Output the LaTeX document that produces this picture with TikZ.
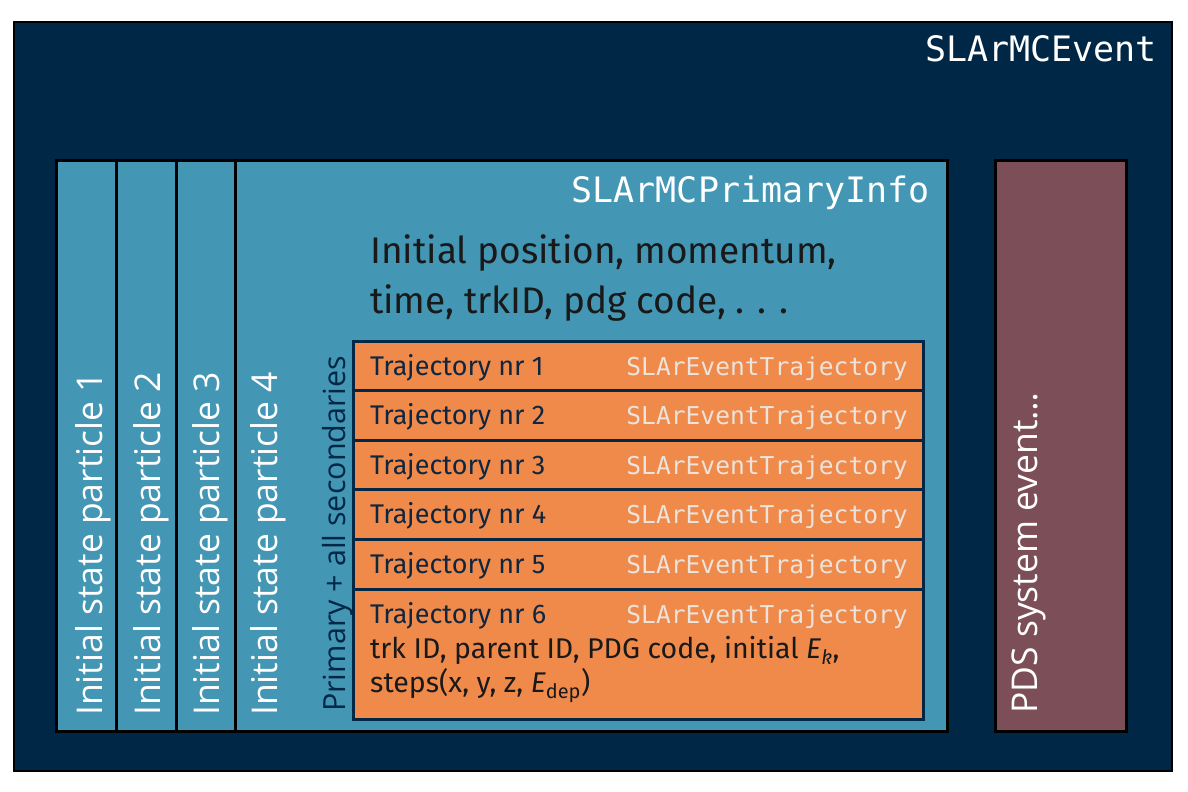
\documentclass[tikz,border=0pt]{standalone}
\usepackage{fontspec}
\setmainfont{Fira Sans}
\setmonofont{DejaVu Sans Mono}
\newfontfamily\rotfont{Open Sans}
\definecolor{navy}{HTML}{002846}
\definecolor{pblue}{HTML}{4396B4}
\definecolor{orng}{HTML}{EF8A4B}
\definecolor{maroon}{HTML}{7C4F58}
\definecolor{monolight}{HTML}{EBE3DC}
\definecolor{trajtext}{HTML}{10263F}
\begin{document}
\begin{tikzpicture}[x=1pt,y=-1pt,
  stripe/.style={draw=black, line width=3pt, fill=pblue},
  trajbox/.style={draw=navy, line width=3pt, fill=orng},
  bigmono/.style={font=\ttfamily\fontsize{35}{40}\selectfont, text=white, inner sep=0pt},
  trajmono/.style={font=\ttfamily\fontsize{24.6}{30}\selectfont, text=monolight, inner sep=0pt},
  trajlbl/.style={font=\fontsize{27}{32}\selectfont, text=trajtext, inner sep=0pt},
  rotlbl/.style={font=\rotfont\fontsize{35.5}{40}\selectfont, text=white, inner sep=0pt, rotate=90, anchor=base west},
  infolbl/.style={font=\fontsize{37}{42}\selectfont, text=black!90, inner sep=0pt, anchor=base west},
  detlbl/.style={font=\fontsize{28.5}{32}\selectfont, text=black!90, inner sep=0pt, anchor=base west}
]
\useasboundingbox (0,0) rectangle (1188,792);
\fill[white] (0,0) rectangle (1188,792);
% outer event
\draw[line width=2pt, draw=black, fill=navy] (14,22) rectangle (1172,771);
\node[bigmono, anchor=base east] (evt) at (1157,62) {SLArMCEvent};
% primary info stripes
\foreach \x in {56,116,176,235} \draw[stripe] (\x,160) rectangle (947,731);
\node[rotlbl] (p1) at (102,716) {Initial state particle 1};
\node[rotlbl] (p2) at (160,716) {Initial state particle 2};
\node[rotlbl] (p3) at (219,716) {Initial state particle 3};
\node[rotlbl] (p4) at (277,716) {Initial state particle 4};
\node[bigmono, anchor=base east] (pinfo) at (930,202) {SLArMCPrimaryInfo};
\node[infolbl] (info1) at (370,263) {Initial position, momentum,};
\node[infolbl] (info2) at (370,313) {time, trkID, pdg code, . . .};
\node[font=\rotfont\fontsize{30.5}{34}\selectfont, text=navy, inner sep=0pt, rotate=90, anchor=base west] (sec) at (345,712) {Primary + all secondaries};
% PDS
\draw[line width=3pt, draw=black, fill=maroon] (995,160) rectangle (1126,731);
\node[rotlbl] (pds) at (1037,714) {PDS system event…};
% trajectories
\draw[draw=navy, line width=3pt] (353,341) rectangle (923,719);
\foreach \i/\t in {1/341,2/390.6,3/440.2,4/489.8,5/539.4,6/589}{
  \draw[trajbox] (353,\t) rectangle (923,719);
  \node[trajlbl, anchor=base west] (tr\i) at (370,\t+34) {Trajectory nr \i};
  \node[trajmono, anchor=base east] (tm\i) at (908,\t+34) {SLArEventTrajectory};
}
\node[detlbl] (det1) at (370,658) {trk ID, parent ID, PDG code, initial {\itshape E}\textsubscript{\itshape k},};
\node[detlbl] (det2) at (370,692) {steps(x, y, z, {\itshape E}\textsubscript{dep})};
\end{tikzpicture}
\end{document}
